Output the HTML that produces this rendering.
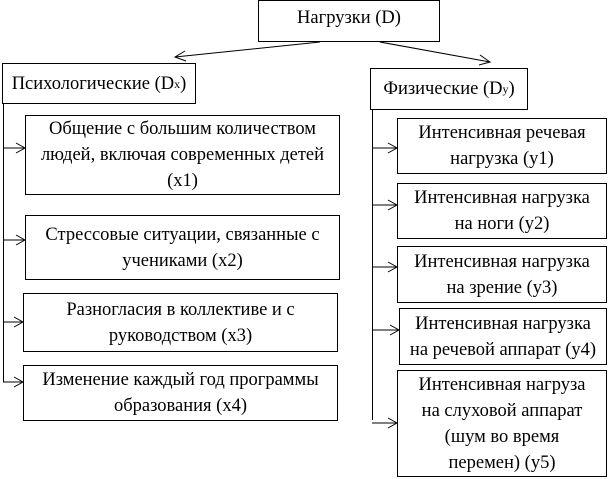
<!DOCTYPE html>
<html><head><meta charset="utf-8"><style>
html,body{margin:0;padding:0;background:#fff;}
body{width:611px;height:479px;position:relative;overflow:hidden;font-family:"Liberation Serif","DejaVu Serif",serif;font-size:18.5px;color:#000;}
.b{position:absolute;border:1px solid #000;box-sizing:border-box;text-align:center;line-height:26px;display:flex;align-items:center;justify-content:center;white-space:nowrap;}
svg{position:absolute;left:0;top:0;}
sub{font-size:12px;vertical-align:-4px;line-height:0;}
</style></head><body>
<svg width="611" height="479" stroke="#000" fill="none" stroke-width="1">
<line x1="320" y1="42" x2="175" y2="57"/><polyline points="185,51 175,57 186,61"/>
<line x1="380" y1="42" x2="490" y2="62"/><polyline points="480,55 490,62 479,65"/>
<line x1="3.5" y1="104" x2="3.5" y2="382"/>
<line x1="3" y1="148" x2="25" y2="148"/><polyline points="16,143 25,148 16,153"/>
<line x1="3" y1="240" x2="25" y2="240"/><polyline points="16,235 25,240 16,245"/>
<line x1="3" y1="322" x2="23" y2="322"/><polyline points="14,317 23,322 14,327"/>
<line x1="3" y1="382" x2="23" y2="382"/><polyline points="14,377 23,382 14,387"/>
<line x1="372.5" y1="110" x2="372.5" y2="420"/>
<line x1="372" y1="148" x2="397" y2="148"/><polyline points="388,143 397,148 388,153"/>
<line x1="372" y1="205" x2="397" y2="205"/><polyline points="388,200 397,205 388,210"/>
<line x1="372" y1="267" x2="397" y2="267"/><polyline points="388,262 397,267 388,272"/>
<line x1="372" y1="330" x2="399" y2="330"/><polyline points="390,325 399,330 390,335"/>
<line x1="372" y1="423" x2="397" y2="423"/><polyline points="388,418 397,423 388,428"/>
</svg>
<div class="b" style="left:258px;top:0;width:182px;height:42px;padding-bottom:6px">Нагрузки (D)</div>
<div class="b" style="left:2px;top:63px;width:194px;height:41px">Психологические (D<sub>x</sub>)</div>
<div class="b" style="left:370px;top:68px;width:158px;height:42px">Физические (D<sub>y</sub>)</div>
<div class="b" style="left:25px;top:115px;width:315px;height:80px">Общение с большим количеством<br>людей, включая современных детей<br>(x1)</div>
<div class="b" style="left:25px;top:215px;width:315px;height:65px">Стрессовые ситуации, связанные с<br>учениками (x2)</div>
<div class="b" style="left:23px;top:293px;width:315px;height:59px">Разногласия в коллективе и с<br>руководством (x3)</div>
<div class="b" style="left:23px;top:365px;width:315px;height:56px">Изменение каждый год программы<br>образования (x4)</div>
<div class="b" style="left:397px;top:118px;width:210px;height:56px">Интенсивная речевая<br>нагрузка (y1)</div>
<div class="b" style="left:397px;top:183px;width:210px;height:56px">Интенсивная нагрузка<br>на ноги (y2)</div>
<div class="b" style="left:397px;top:246px;width:210px;height:57px">Интенсивная нагрузка<br>на зрение (y3)</div>
<div class="b" style="left:399px;top:308px;width:208px;height:57px">Интенсивная нагрузка<br>на речевой аппарат (y4)</div>
<div class="b" style="left:397px;top:370px;width:210px;height:107px">Интенсивная нагруза<br>на слуховой аппарат<br>(шум во время<br>перемен) (y5)</div>
</body></html>
